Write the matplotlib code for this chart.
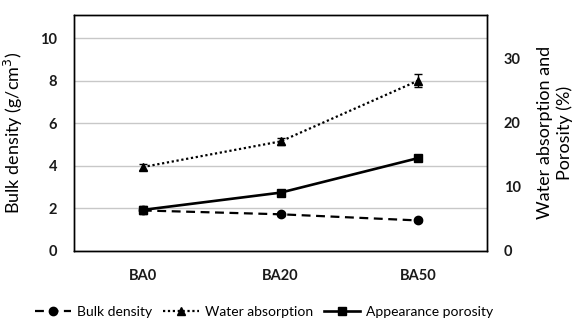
import numpy as np
import matplotlib
matplotlib.use('Agg')
import matplotlib.pyplot as plt
from matplotlib.lines import Line2D

plt.rcParams['font.family'] = ['Lato', 'DejaVu Sans']

# data
samples = ['BA0', 'BA20', 'BA50']
bulk_density = [1.90, 1.72, 1.43]
bulk_err = [0.10, 0.08, 0.06]
water_absorption = [13.1, 17.1, 26.6]
water_err = [0.4, 0.5, 1.0]
porosity = [6.4, 9.1, 14.5]
porosity_err = [0.6, 0.3, 0.3]

x = np.arange(len(samples))

fig = plt.figure(figsize=(5.87, 3.25), dpi=100)
ax = fig.add_axes([0.126, 0.228, 0.704, 0.727])
ax2 = ax.twinx()

lw = 1.6
dash = (0, (4, 2.5))
dot = (0, (1, 1.2))
ax.errorbar(x, bulk_density, yerr=bulk_err, color='black', ls=dash, lw=lw,
            marker='o', ms=6, capsize=3, elinewidth=1)
ax2.errorbar(x, water_absorption, yerr=water_err, color='black', ls=dot, lw=lw,
             marker='^', ms=6, capsize=3, elinewidth=1)
ax2.errorbar(x, porosity, yerr=porosity_err, color='black', ls='-', lw=lw + 0.3,
             marker='s', ms=6, capsize=3, elinewidth=1)

ax.set_xlim(-0.5, 2.5)
ax.set_ylim(0, 11.1)
ax2.set_ylim(0, 36.9)
ax.set_yticks([0, 2, 4, 6, 8, 10])
ax2.set_yticks([0, 10, 20, 30])
ax.set_xticks(x)
ax.set_xticklabels(samples)

ax.grid(axis='y', color='#c8c8c8', lw=1)
ax.set_axisbelow(True)
for a in (ax, ax2):
    a.tick_params(length=0, labelsize=10.5)
    for s in a.spines.values():
        s.set_color('black')
        s.set_linewidth(1)
    for t in a.get_xticklabels() + a.get_yticklabels():
        t.set_fontweight('bold')
        t.set_color('#1a1a1a')
ax.tick_params(axis='x', pad=13)
ax.tick_params(axis='y', pad=12)
ax2.tick_params(axis='y', pad=12)

ax.set_ylabel('Bulk density (g/cm$^3$)', fontsize=13)
ax.yaxis.set_label_coords(-0.119, 0.5)
ax2.set_ylabel('Water absorption and\nPorosity (%)', fontsize=13, rotation=90,
               linespacing=1.25)
ax2.yaxis.set_label_coords(1.121, 0.5)

handles = [
    Line2D([], [], color='black', ls=dash, lw=lw, marker='o', ms=6),
    Line2D([], [], color='black', ls=dot, lw=lw, marker='^', ms=6),
    Line2D([], [], color='black', ls='-', lw=lw + 0.3, marker='s', ms=6),
]
labels = ['Bulk density', 'Water absorption', 'Appearance porosity']
fig.legend(handles, labels, loc='center', bbox_to_anchor=(0.450, 0.04), ncol=3,
           frameon=False, fontsize=10, handlelength=2.6, columnspacing=0.8,
           handletextpad=0.4)

fig.savefig('out.png', dpi=100)
